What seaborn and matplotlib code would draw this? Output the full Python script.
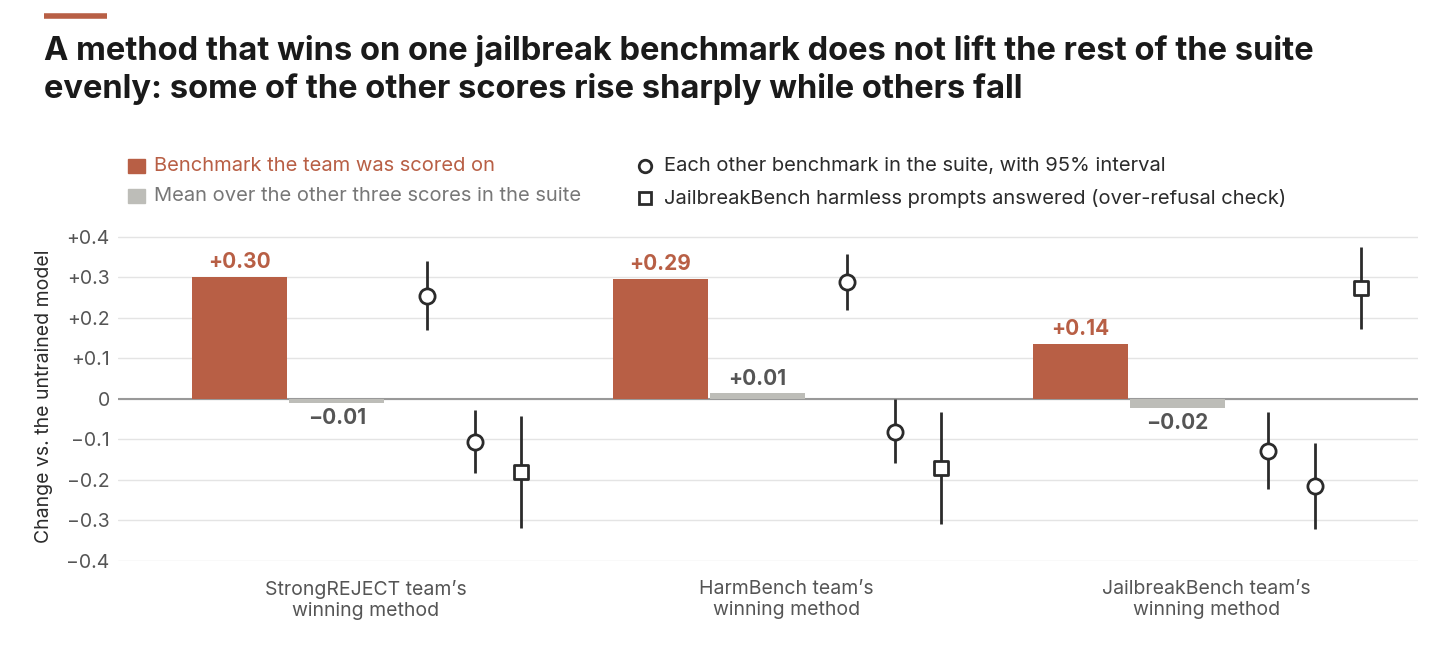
import matplotlib
matplotlib.use("Agg")
import matplotlib.pyplot as plt
import seaborn as sns
import pandas as pd
import numpy as np

groups = ["StrongREJECT team’s\nwinning method", "HarmBench team’s\nwinning method", "JailbreakBench team’s\nwinning method"]
scored = [0.30, 0.295, 0.136]
scored_labels = ["+0.30", "+0.29", "+0.14"]
mean_other = [-0.01, 0.013, -0.022]
mean_labels = ["−0.01", "+0.01", "−0.02"]
circ1 = [0.254, 0.289, -0.128]; circ1_lo = [0.17, 0.22, -0.222]; circ1_hi = [0.34, 0.356, -0.032]
circ2 = [-0.106, -0.081, -0.215]; circ2_lo = [-0.183, -0.158, -0.321]; circ2_hi = [-0.027, 0.0, -0.109]
sq = [-0.18, -0.17, 0.272]; sq_lo = [-0.318, -0.309, 0.173]; sq_hi = [-0.042, -0.032, 0.373]
yticks = [0.4, 0.3, 0.2, 0.1, 0, -0.1, -0.2, -0.3, -0.4]
ytick_labels = ["+0.4", "+0.3", "+0.2", "+0.1", "0", "−0.1", "−0.2", "−0.3", "−0.4"]

RUST = "#b85f45"; GREY = "#bdbdb8"; DARK = "#2b2b2b"; TXT = "#555555"
sns.set_theme(style="white")
plt.rcParams["font.family"] = ["Inter", "DejaVu Sans"]

fig = plt.figure(figsize=(14.4, 6.67), dpi=100)
ax = fig.add_axes([0.082, 0.159, 0.903, 0.4925])
x = np.arange(len(groups))
w = 0.226
ax.bar(x - 0.3, scored, width=w, color=RUST, lw=0, zorder=3)
ax.bar(x - 0.069, mean_other, width=w, color=GREY, lw=0, zorder=3)
for i in range(3):
    ax.text(x[i] - 0.3, scored[i] + 0.012, scored_labels[i], ha="center", va="bottom",
            color=RUST, fontsize=15, fontweight="bold")
    my = mean_other[i]
    if my >= 0:
        ax.text(x[i] - 0.069, my + 0.012, mean_labels[i], ha="center", va="bottom", color=TXT, fontsize=15, fontweight="bold")
    else:
        ax.text(x[i] - 0.069, my - 0.012, mean_labels[i], ha="center", va="top", color=TXT, fontsize=15, fontweight="bold")
for off, v, lo, hi, mk in [(0.146, circ1, circ1_lo, circ1_hi, "o"), (0.26, circ2, circ2_lo, circ2_hi, "o"), (0.369, sq, sq_lo, sq_hi, "s")]:
    xs = x + off
    ax.vlines(xs, lo, hi, color=DARK, lw=2, zorder=4)
    sns.scatterplot(x=xs, y=v, ax=ax, marker=mk, s=120 if mk == "o" else 110, color="white",
                    edgecolor=DARK, linewidth=2, zorder=5, legend=False)
ax.axhline(0, color="#999999", lw=1.5, zorder=2)
ax.set_yticks(yticks)
ax.set_yticklabels(ytick_labels)
ax.yaxis.grid(True, color="#e4e4e4", lw=1)
ax.set_axisbelow(True)
ax.set_xlim(-0.59, 2.505)
ax.set_ylim(-0.4, 0.41)
ax.set_xticks(x)
ax.set_xticklabels(groups, fontsize=14, color=TXT)
ax.tick_params(axis="x", length=0, pad=14)
ax.tick_params(axis="y", length=0, labelsize=14, labelcolor=TXT, pad=6)
for s in ax.spines.values():
    s.set_visible(False)
ax.set_ylabel("Change vs. the untrained model", fontsize=14, color=DARK, labelpad=10)

fig.add_artist(plt.Line2D([44/1440, 107/1440], [1 - 16/667] * 2, color=RUST, lw=4, solid_capstyle="butt"))
fig.text(44/1440, 1 - 70/667, "A method that wins on one jailbreak benchmark does not lift the rest of the suite\nevenly: some of the other scores rise sharply while others fall",
         fontsize=23.5, fontweight="bold", color="#1a1a1a", va="center", linespacing=1.25)
def leg(xp, yp, kind, text, tc):
    fx, fy = xp/1440, 1 - yp/667
    if kind == "bar":
        fig.add_artist(plt.Rectangle((fx, fy - 0.011), 17/1440, 0.022, color=RUST if tc == RUST else GREY))
    else:
        fig.add_artist(plt.Line2D([fx + 7/1440], [fy], marker="o" if kind == "o" else "s", ms=9,
                                  mfc="white", mec=DARK, mew=2))
    fig.text(fx + 26/1440, fy, text, fontsize=14.5, color=tc, va="center")
leg(128, 166, "bar", "Benchmark the team was scored on", RUST)
leg(128, 196, "bar", "Mean over the other three scores in the suite", "#777777")
leg(638, 166, "o", "Each other benchmark in the suite, with 95% interval", DARK)
leg(638, 198, "s", "JailbreakBench harmless prompts answered (over-refusal check)", DARK)
fig.savefig("out.png", dpi=100)
